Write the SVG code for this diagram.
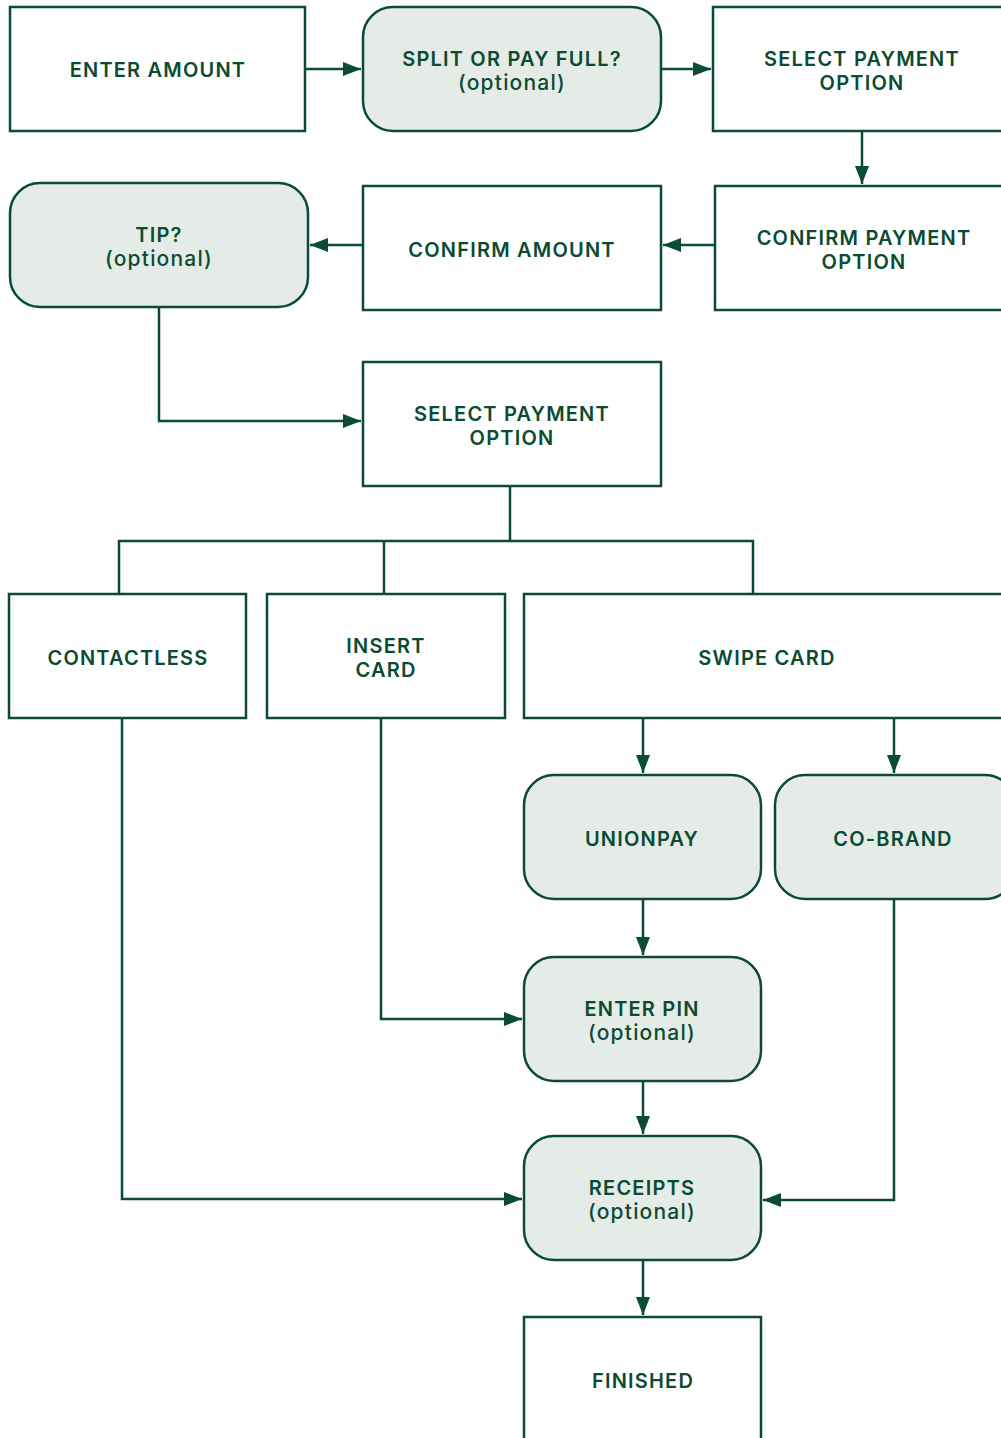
<svg xmlns="http://www.w3.org/2000/svg" width="1001" height="1438" viewBox="0 0 1001 1438">
<defs>
<style>
.box{fill:#ffffff;stroke:#0b4b32;stroke-width:2.5}
.opt{fill:#e5ece7;stroke:#0b4b32;stroke-width:2.5}
.t{font-family:Inter,"Noto Sans",sans-serif;font-weight:600;font-size:20px;fill:#0b4b32;text-anchor:middle;letter-spacing:1.2px}
.s{font-weight:500;font-size:21px;letter-spacing:1.2px}
.c{fill:none;stroke:#0b4b32;stroke-width:2.5}
</style>
<marker id="ah" viewBox="0 0 18 14" refX="18" refY="7" markerWidth="18" markerHeight="14" markerUnits="userSpaceOnUse" orient="auto">
<path d="M0,0 L18,7 L0,14 Z" fill="#0b4b32"/>
</marker>
</defs>
<rect width="1001" height="1438" fill="#ffffff"/>
<g id="connectors">
<path class="c" d="M305,69 H361" marker-end="url(#ah)"/>
<path class="c" d="M661,69 H711" marker-end="url(#ah)"/>
<path class="c" d="M862,131 V184" marker-end="url(#ah)"/>
<path class="c" d="M715,245 H663" marker-end="url(#ah)"/>
<path class="c" d="M363,245 H310" marker-end="url(#ah)"/>
<path class="c" d="M159,307 V421 H361" marker-end="url(#ah)"/>
<path class="c" d="M510,486 V541"/>
<path class="c" d="M119,594 V541 H753 V594"/>
<path class="c" d="M384,541 V594"/>
<path class="c" d="M643,718 V773" marker-end="url(#ah)"/>
<path class="c" d="M894,718 V773" marker-end="url(#ah)"/>
<path class="c" d="M643,899 V955" marker-end="url(#ah)"/>
<path class="c" d="M381,718 V1019 H522" marker-end="url(#ah)"/>
<path class="c" d="M643,1081 V1134" marker-end="url(#ah)"/>
<path class="c" d="M122,718 V1199 H522" marker-end="url(#ah)"/>
<path class="c" d="M894,899 V1200 H763" marker-end="url(#ah)"/>
<path class="c" d="M643,1260 V1315" marker-end="url(#ah)"/>
</g>
<g id="enter-amount"><rect class="box" x="10" y="7" width="295" height="124"/><text class="t" x="158" y="77">ENTER AMOUNT</text></g>
<g id="split"><rect class="opt" x="363" y="7" width="298" height="124" rx="30"/><text class="t" x="512" y="66">SPLIT OR PAY FULL?</text><text class="t s" x="512" y="90">(optional)</text></g>
<g id="select-payment-1"><rect class="box" x="713" y="7" width="300" height="124"/><text class="t" x="862" y="66">SELECT PAYMENT</text><text class="t" x="862" y="90">OPTION</text></g>
<g id="confirm-payment"><rect class="box" x="715" y="186" width="300" height="124"/><text class="t" x="864" y="245">CONFIRM PAYMENT</text><text class="t" x="864" y="269">OPTION</text></g>
<g id="confirm-amount"><rect class="box" x="363" y="186" width="298" height="124"/><text class="t" x="512" y="257">CONFIRM AMOUNT</text></g>
<g id="tip"><rect class="opt" x="10" y="183" width="298" height="124" rx="30"/><text class="t" x="159" y="242">TIP?</text><text class="t s" x="159" y="266">(optional)</text></g>
<g id="select-payment-2"><rect class="box" x="363" y="362" width="298" height="124"/><text class="t" x="512" y="421">SELECT PAYMENT</text><text class="t" x="512" y="445">OPTION</text></g>
<g id="contactless"><rect class="box" x="9" y="594" width="237" height="124"/><text class="t" x="128" y="665">CONTACTLESS</text></g>
<g id="insert-card"><rect class="box" x="267" y="594" width="238" height="124"/><text class="t" x="386" y="653">INSERT</text><text class="t" x="386" y="677">CARD</text></g>
<g id="swipe-card"><rect class="box" x="524" y="594" width="490" height="124"/><text class="t" x="767" y="665">SWIPE CARD</text></g>
<g id="unionpay"><rect class="opt" x="524" y="775" width="237" height="124" rx="30"/><text class="t" x="642" y="846">UNIONPAY</text></g>
<g id="co-brand"><rect class="opt" x="775" y="775" width="240" height="124" rx="30"/><text class="t" x="893" y="846">CO-BRAND</text></g>
<g id="enter-pin"><rect class="opt" x="524" y="957" width="237" height="124" rx="30"/><text class="t" x="642" y="1016">ENTER PIN</text><text class="t s" x="642" y="1040">(optional)</text></g>
<g id="receipts"><rect class="opt" x="524" y="1136" width="237" height="124" rx="30"/><text class="t" x="642" y="1195">RECEIPTS</text><text class="t s" x="642" y="1219">(optional)</text></g>
<g id="finished"><rect class="box" x="524" y="1317" width="237" height="140"/><text class="t" x="643" y="1388">FINISHED</text></g>
</svg>
